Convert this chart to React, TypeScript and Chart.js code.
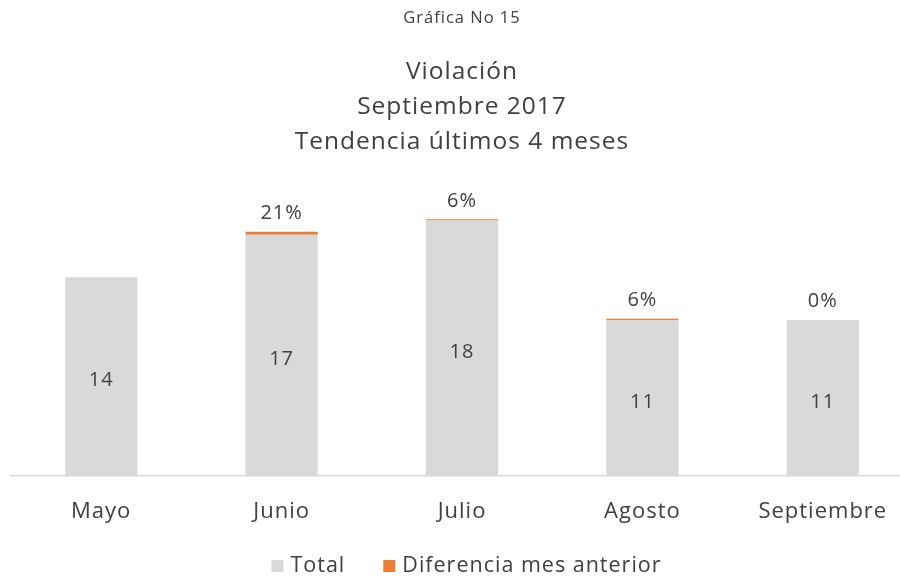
import React, { useEffect, useRef } from "react";
import { Chart, registerables } from "chart.js";

Chart.register(...registerables);

const categories = ["Mayo", "Junio", "Julio", "Agosto", "Septiembre"];
const totals = [14, 17, 18, 11, 11];
const differences = [0, 0.21, 0.06, 0.06, 0];
const differenceLabels = ["", "21%", "6%", "6%", "0%"];
const totalLabels = ["14", "17", "18", "11", "11"];

const FONT = "'Open Sans', Lato, sans-serif";
const TEXT = "#404040";
const ORANGE = "#ed7d31";

const spacingPlugin = {
  id: "letterSpacing",
  beforeLayout(chart: any) {
    if ("letterSpacing" in chart.ctx) chart.ctx.letterSpacing = "1px";
  },
  beforeDraw(chart: any) {
    if ("letterSpacing" in chart.ctx) chart.ctx.letterSpacing = "1px";
  },
};

const labelPlugin = {
  id: "barLabels",
  afterDatasetsDraw(chart: any) {
    const ctx = chart.ctx;
    const m0 = chart.getDatasetMeta(0);
    const m1 = chart.getDatasetMeta(1);
    ctx.save();
    ctx.fillStyle = TEXT;
    ctx.textAlign = "center";
    ctx.textBaseline = "middle";
    ctx.font = `20px ${FONT}`;
    m0.data.forEach((bar: any, i: number) => {
      const { x, y, base } = bar.getProps(["x", "y", "base"], true);
      ctx.fillText(totalLabels[i], x, (y + base) / 2 + 4);
    });
    m1.data.forEach((bar: any, i: number) => {
      const { x, y } = bar.getProps(["x", "y"], true);
      const top = Math.min(y, m0.data[i].y);
      if (differenceLabels[i]) ctx.fillText(differenceLabels[i], x, top - 18);
    });
    ctx.restore();
  },
};

const legendPlugin = {
  id: "customLegend",
  afterDraw(chart: any) {
    const ctx = chart.ctx;
    ctx.save();
    ctx.font = `21.5px ${FONT}`;
    ctx.textBaseline = "middle";
    ctx.textAlign = "left";
    const box = 12;
    const gap = 7;
    const itemGap = 38;
    const colors = ["#d9d9d9", ORANGE];
    const items = chart.data.datasets.map((d: any, i: number) => ({
      label: d.label as string,
      color: colors[i],
      w: ctx.measureText(d.label).width,
    }));
    const total = items.reduce((s: number, it: any) => s + box + gap + it.w, 0) + itemGap * (items.length - 1);
    let x = chart.width / 2 + 6 - total / 2;
    const y = 566;
    items.forEach((it: any) => {
      ctx.fillStyle = it.color;
      ctx.fillRect(x, y - box / 2, box, box);
      x += box + gap;
      ctx.fillStyle = TEXT;
      ctx.fillText(it.label, x, y);
      x += it.w + itemGap;
    });
    ctx.restore();
  },
};

export default function App() {
  const ref = useRef<HTMLCanvasElement>(null);
  useEffect(() => {
    if (!ref.current) return;
    const chart = new Chart(ref.current, {
      type: "bar",
      data: {
        labels: categories,
        datasets: [
          {
            label: "Total",
            data: totals,
            backgroundColor: "#d9d9d9",
            barPercentage: 0.4,
            categoryPercentage: 1,
          },
          {
            label: "Diferencia mes anterior",
            data: differences,
            backgroundColor: (c: any) => (c.raw ? ORANGE : "rgba(0,0,0,0)"),
            minBarLength: 1.2,
            barPercentage: 0.4,
            categoryPercentage: 1,
          },
        ],
      },
      options: {
        animation: false,
        responsive: true,
        maintainAspectRatio: false,
        layout: { padding: { left: 11, right: 8, top: 0, bottom: 29.6 } },
        scales: {
          x: {
            stacked: true,
            grid: { display: false, drawTicks: false },
            border: { color: "#d9d9d9", width: 1.5 },
            ticks: { color: TEXT, font: { family: FONT, size: 22 }, padding: 23 },
          },
          y: {
            stacked: true,
            display: false,
            min: 0,
            max: 20,
          },
        },
        plugins: {
          title: {
            display: true,
            text: "Gráfica No 15",
            color: TEXT,
            font: { family: FONT, size: 16.5, weight: "normal" },
            padding: { top: 8, bottom: 27 },
          },
          subtitle: {
            display: true,
            text: ["Violación", "Septiembre 2017", "Tendencia últimos 4 meses"],
            color: TEXT,
            font: { family: FONT, size: 24.5, lineHeight: 1.42 },
            padding: { top: 0, bottom: 33 },
          },
          legend: { display: false },
          tooltip: { enabled: false },
        },
      },
      plugins: [spacingPlugin, labelPlugin, legendPlugin],
    });
    return () => chart.destroy();
  }, []);
  return (
    <div style={{ position: "fixed", left: 0, top: 0, width: 900, height: 578, overflow: "hidden", background: "#fff" }}>
      <div style={{ position: "absolute", left: 0, top: 0, width: 921, height: 578 }}>
        <canvas ref={ref} />
      </div>
    </div>
  );
}
